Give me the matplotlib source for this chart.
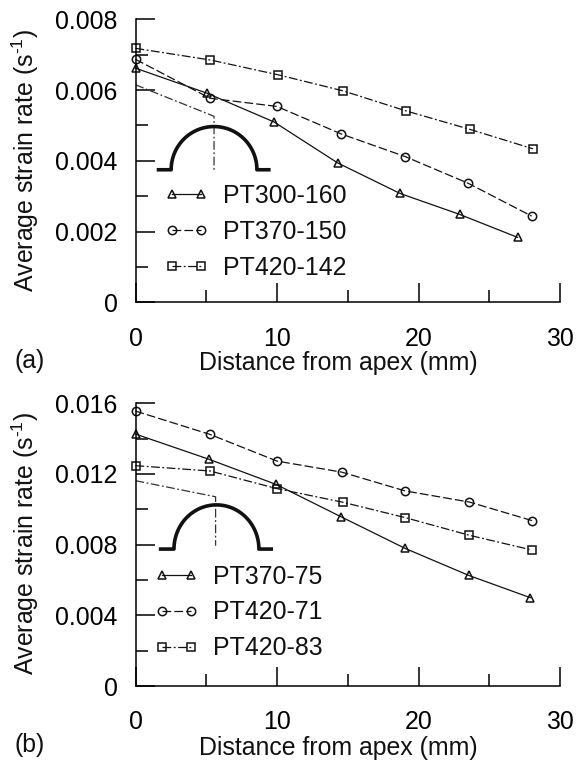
import numpy as np
import matplotlib
matplotlib.use("Agg")
import matplotlib.pyplot as plt
from matplotlib.ticker import MultipleLocator

plt.rcParams.update({
    "font.family": ["Liberation Sans", "DejaVu Sans"],
    "font.size": 17.9,
    "mathtext.fontset": "custom",
    "mathtext.rm": "Liberation Sans",
    "mathtext.default": "regular",
    "text.color": "#111111",
})

W, H = 576, 765

# ---- data panel (a)
a_labels = ["PT300-160", "PT370-150", "PT420-142"]
a_x1 = [0, 5.07, 9.79, 14.3, 18.7, 22.9, 27.0]
a_y1 = [0.00662, 0.00591, 0.00510, 0.00394, 0.00308, 0.00249, 0.00184]
a_x2 = [0, 5.26, 9.98, 14.55, 19.07, 23.5, 28.0]
a_y2 = [0.00687, 0.00577, 0.00554, 0.00476, 0.00412, 0.00337, 0.00244]
a_x3 = [0, 5.3, 10.1, 14.66, 19.14, 23.64, 28.1]
a_y3 = [0.00718, 0.00685, 0.00643, 0.00598, 0.00541, 0.00489, 0.00434]
a_yticks = [0, 0.002, 0.004, 0.006, 0.008]
a_yticklabels = ["0", "0.002", "0.004", "0.006", "0.008"]

# ---- data panel (b)
b_labels = ["PT370-75", "PT420-71", "PT420-83"]
b_x1 = [0, 5.2, 9.93, 14.52, 19.05, 23.55, 27.9]
b_y1 = [0.01426, 0.01283, 0.01141, 0.00958, 0.00779, 0.00626, 0.00500]
b_x2 = [0, 5.26, 10.0, 14.6, 19.06, 23.6, 28.03]
b_y2 = [0.01556, 0.01424, 0.01273, 0.01210, 0.01104, 0.01041, 0.00936]
b_x3 = [0, 5.26, 10.0, 14.65, 19.06, 23.6, 28.0]
b_y3 = [0.01247, 0.01217, 0.01117, 0.01040, 0.00953, 0.00853, 0.00770]
b_yticks = [0, 0.004, 0.008, 0.012, 0.016]
b_yticklabels = ["0", "0.004", "0.008", "0.012", "0.016"]

xticks = [0, 10, 20, 30]
xlabel = "Distance from apex (mm)"
ylabel = r"Average strain rate (s$^{\text{-}1}$)"

STYLES = [
    dict(marker="^", linestyle="-"),
    dict(marker="o", linestyle=(0, (7, 2.5))),
    dict(marker="s", linestyle=(0, (7, 2, 1.5, 2))),
]


def px_axes(x0, x1, ytop, ybot):
    return fig.add_axes([x0 / W, 1 - ybot / H, (x1 - x0) / W, (ybot - ytop) / H])


def draw_panel(ax, series, labels, ymax, yticks, yticklabels, yminor, tag,
               tag_py, xl_py, yl_py, leg_anchor, inset):
    for (x, y), lab, st in zip(series, labels, STYLES):
        ax.plot(x, y, color="#111111", lw=0.9, mfc="none", mec="#111111",
                mew=1.1, ms=6, clip_on=False, label=lab, **st)
    ax.set_xlim(0, 30)
    ax.set_ylim(0, ymax)
    ax.spines[["top", "right"]].set_visible(False)
    ax.spines[["left", "bottom"]].set_linewidth(1.1)
    ax.set_xticks(xticks)
    ax.set_yticks(yticks)
    ax.set_yticklabels(yticklabels)
    ax.xaxis.set_minor_locator(MultipleLocator(5))
    ax.yaxis.set_minor_locator(MultipleLocator(yminor))
    ax.tick_params(which="major", direction="in", length=13.7, width=1.1)
    ax.tick_params(which="minor", direction="in", length=8.5, width=1.1)
    ax.tick_params(axis="x", which="major", pad=17.5)
    ax.tick_params(axis="y", which="major", pad=13)
    fig.text(338 / W, 1 - xl_py / H, xlabel, ha="center", va="center")
    fig.text(25 / W, 1 - yl_py / H, ylabel, rotation=90, ha="center", va="center")
    fig.text(15 / W, 1 - tag_py / H, tag, ha="left", va="center")
    leg = ax.legend(loc="upper left", bbox_to_anchor=leg_anchor,
                    bbox_transform=fig.transFigure, frameon=False, numpoints=2,
                    handlelength=1.77, handletextpad=0.59, labelspacing=0.48,
                    borderpad=0, borderaxespad=0)
    for t in leg.get_texts():
        t.set_color("#111111")
    # schematic of the dome cross-section
    (sx0, sy0), (sxm, sym), (sxb, syb), (lf, cx, rr, rf, base, rad) = inset
    ax.plot([sx0, sxm, sxm, sxb], [sy0, sym, sym, syb], color="#333333", lw=0.9,
            linestyle=(0, (7, 2, 1.5, 2)))
    t = np.linspace(np.pi, 0, 80)
    ax.plot(np.r_[lf, cx + rr * np.cos(t), rf],
            np.r_[base, base + rad * np.sin(t), base],
            color="#111111", lw=2.6, solid_capstyle="butt", solid_joinstyle="round")


fig = plt.figure(figsize=(W / 100, H / 100), dpi=100)

ax_a = px_axes(135.5, 560, 19.3, 302.5)
draw_panel(ax_a, [(a_x1, a_y1), (a_x2, a_y2), (a_x3, a_y3)], a_labels, 0.008,
           a_yticks, a_yticklabels, 0.001, "(a)", 361, 363, 161,
           (164.6 / W, 1 - 184 / H),
           ((0, 0.00615), (5.55, 0.00526), (5.55, 0.00370),
            (1.5, 5.55, 3.03, 9.55, 0.00375, 0.00122)))

ax_b = px_axes(135.5, 560, 403.3, 686)
draw_panel(ax_b, [(b_x1, b_y1), (b_x2, b_y2), (b_x3, b_y3)], b_labels, 0.016,
           b_yticks, b_yticklabels, 0.002, "(b)", 745, 748, 544,
           (154.6 / W, 1 - 564.5 / H),
           ((0, 0.01162), (5.66, 0.01071), (5.66, 0.00794),
            (1.65, 5.72, 3.0, 9.72, 0.00775, 0.00250)))

fig.savefig("out.png", dpi=100)
